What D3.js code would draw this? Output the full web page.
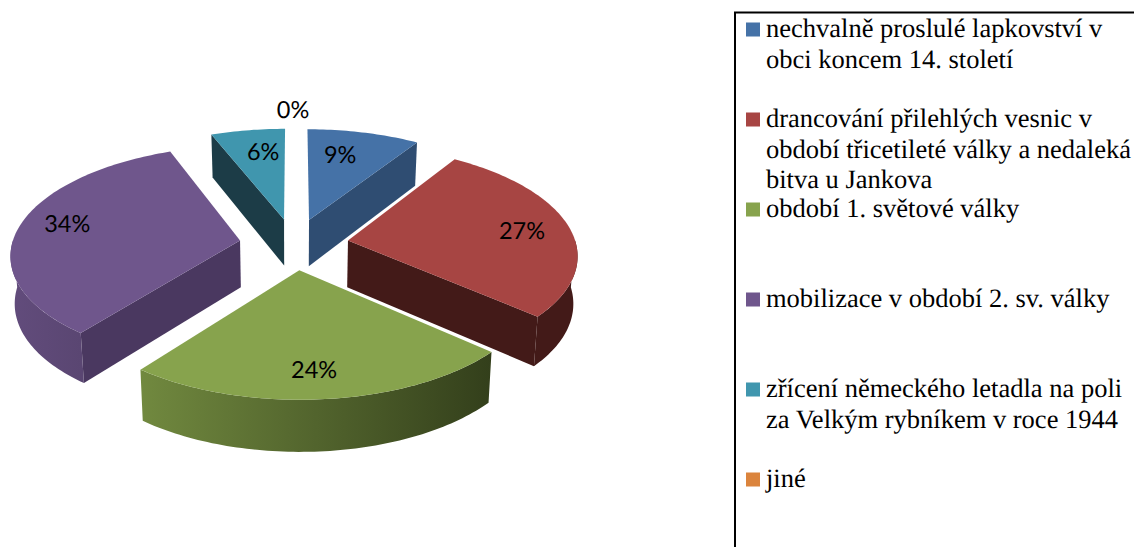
<!DOCTYPE html>
<html><head><meta charset="utf-8">
<script src="https://cdnjs.cloudflare.com/ajax/libs/d3/7.8.5/d3.min.js"></script>
<style>html,body{margin:0;padding:0;background:#fff;overflow:hidden}svg{display:block;text-rendering:geometricPrecision}</style>
</head><body><svg id="c" width="1134" height="547"></svg>
<script>
const categories = [
  ["nechvalně proslulé lapkovství v","obci koncem 14. století"],
  ["drancování přilehlých vesnic v","období třicetileté války a nedaleká","bitva u Jankova"],
  ["období 1. světové války"],
  ["mobilizace v období 2. sv. války"],
  ["zřícení německého letadla na poli","za Velkým rybníkem v roce 1944"],
  ["jiné"]
];
const values = [9.1, 27.4, 24.0, 33.5, 6.0, 0];
const topColors = ["#4572A7","#A74543","#87A34D","#6F568C","#4096AE","#DB843D"];
const wallColors = ["#2F4D72","#431A18","#36421D","#4A3860","#1C3C47","#8A4F20"];
const arcColors = [["#2F4D72","#2F4D72"],["#431A18","#431A18"],["#71893F","#333F1B"],["#624C7C","#5A4672"],["#1C3C47","#1C3C47"],["#8A4F20","#8A4F20"]];
const labelNudge = [[-11,2],[8,1],[-4,6],[-7,-5],[7,1],[-1,0]];

const svg = d3.select("#c");
const defs = svg.append("defs");
const cx = 294, cy = 244, A = 228, B = 107, H = 47, persp = 0.12, explode = 0.24;

const pie = d3.pie().sort(null).value(d => d);
const arcs = pie(values).map((a, i) => ({...a, i}));

const project = (x, z, bottom) => {
  const s = 1 / (1 - persp * z);
  if (!bottom) return [cx + A * x * s, cy + B * z * s];
  return [cx + A * x * s * 0.985, cy + B * z * s + H / (1 - 0.08 * z)];
};
const tip = d => {
  const m = (d.startAngle + d.endAngle) / 2;
  return [explode * Math.sin(m), -explode * Math.cos(m)];
};
const rim = (d, a, r = 1) => {
  const t = tip(d);
  return [t[0] + r * Math.sin(a), t[1] - r * Math.cos(a)];
};
const line = d3.line();
const rimAngles = (a0, a1) => {
  const n = Math.max(2, Math.ceil((a1 - a0) / 0.02));
  return d3.range(n + 1).map(k => a0 + (a1 - a0) * k / n);
};

// painter's order: back slices first, front slice last
const order = [5, 4, 0, 3, 1, 2];
order.forEach(i => {
  const d = arcs[i];
  if (d.endAngle - d.startAngle < 1e-6) return;
  const g = svg.append("g");
  const t = tip(d);
  const wall = a => {
    const r = rim(d, a);
    const pts = [project(t[0], t[1]), project(r[0], r[1]), project(r[0], r[1], true), project(t[0], t[1], true)];
    g.append("path").attr("d", line(pts) + "Z").attr("fill", wallColors[i]);
  };
  const a0 = d.startAngle, a1 = d.endAngle;
  // a radial cut face is visible only when its normal points toward the viewer
  if (a0 > Math.PI) wall(a0);
  if (a1 < Math.PI) wall(a1);
  // outer rim wall: only the near half of the circle is visible
  const v0 = Math.max(a0, Math.PI / 2), v1 = Math.min(a1, 1.5 * Math.PI);
  if (v1 > v0) {
    const as = rimAngles(v0, v1);
    const up = as.map(a => { const r = rim(d, a); return project(r[0], r[1]); });
    const dn = as.map(a => { const r = rim(d, a); return project(r[0], r[1], true); }).reverse();
    const xs = up.map(p => p[0]);
    const id = "g" + i;
    const grad = defs.append("linearGradient").attr("id", id).attr("gradientUnits", "userSpaceOnUse")
      .attr("x1", d3.min(xs)).attr("x2", d3.max(xs)).attr("y1", 0).attr("y2", 0);
    grad.append("stop").attr("offset", 0).attr("stop-color", arcColors[i][0]);
    grad.append("stop").attr("offset", 1).attr("stop-color", arcColors[i][1]);
    g.append("path").attr("d", line(up.concat(dn)) + "Z").attr("fill", `url(#${id})`);
  }
  // top face
  const face = [project(t[0], t[1])].concat(rimAngles(a0, a1).map(a => { const r = rim(d, a); return project(r[0], r[1]); }));
  g.append("path").attr("d", line(face) + "Z").attr("fill", topColors[i]);
});

// value labels
const labelPos = d => project(...rim(d, (d.startAngle + d.endAngle) / 2, d.value > 0 ? 0.75 : 1.23));
svg.append("g").selectAll("text").data(arcs).join("text")
  .attr("font-family", "Lato, sans-serif").attr("font-size", 23.5).attr("fill", "#000")
  .attr("text-anchor", "middle").attr("dominant-baseline", "central")
  .attr("x", d => labelPos(d)[0] + labelNudge[d.i][0])
  .attr("y", d => labelPos(d)[1] + labelNudge[d.i][1])
  .text(d => Math.round(d.value) + "%");

// legend
svg.append("rect").attr("x", 735).attr("y", 12.5).attr("width", 420).attr("height", 560)
  .attr("fill", "none").attr("stroke", "#000").attr("stroke-width", 2);
const legendY = d3.scaleLinear().domain([0, 5]).range([37, 487]);
const lg = svg.append("g").selectAll("g").data(categories).join("g");
lg.append("rect").attr("x", 746).attr("width", 14).attr("height", 14)
  .attr("y", (d, i) => legendY(i) - 14.5).attr("fill", (d, i) => topColors[i]);
lg.each(function (lines, i) {
  d3.select(this).selectAll("text").data(lines).join("text")
    .attr("x", 766).attr("y", (l, k) => legendY(i) + k * 30.5)
    .attr("font-family", "'Liberation Serif', serif").attr("font-size", 26.5).attr("fill", "#000")
    .text(l => l);
});
</script></body></html>
